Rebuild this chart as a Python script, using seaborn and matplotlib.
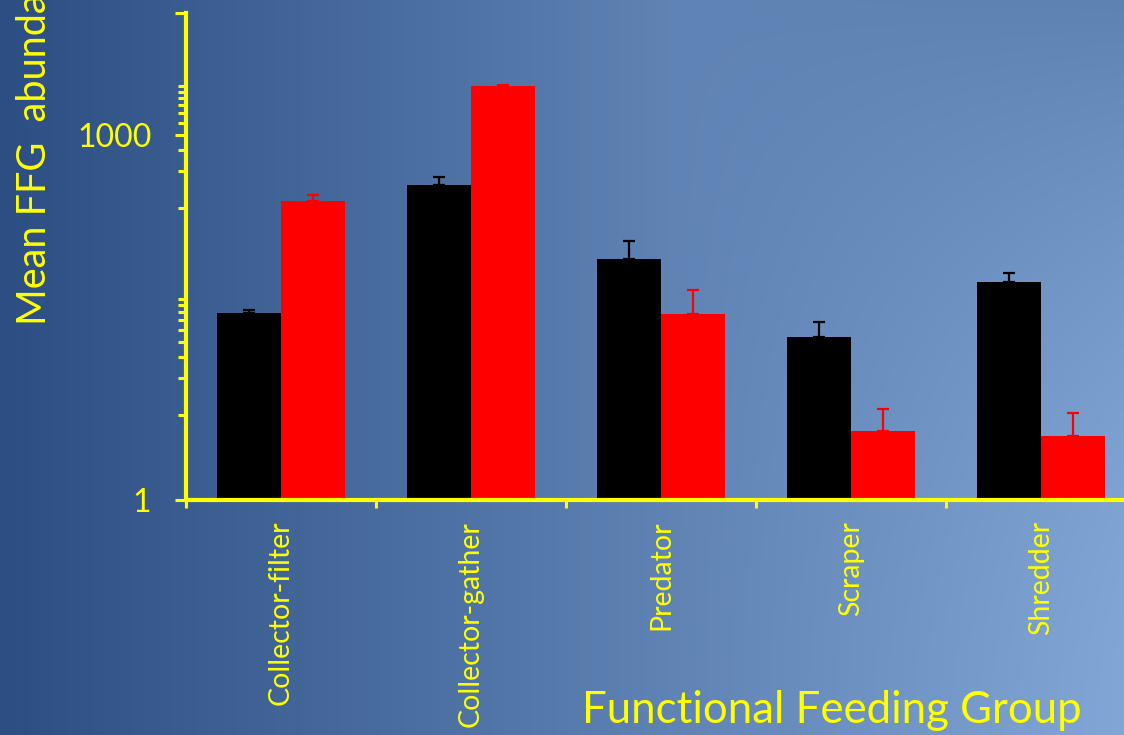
import numpy as np
import pandas as pd
import matplotlib
matplotlib.use("Agg")
import matplotlib.pyplot as plt
import seaborn as sns
from matplotlib.ticker import FixedLocator, NullFormatter

# Mean abundance per functional feeding group, two site types
groups = ["Collector-filter", "Collector-gather", "Predator", "Scraper", "Shredder"]
site_types = ["A", "B"]
mean_a = [34.0, 388.0, 95.7, 21.8, 61.9]
mean_b = [283.0, 2523.0, 33.7, 3.69, 3.36]
upper_a = [36.3, 451.0, 134.0, 29.0, 73.3]
upper_b = [316.0, 2570.0, 53.2, 5.59, 5.19]

y_major = [1, 1000, 10000]
y_major_labels = ["1", "1000", ""]
y_minor = [5, 10, 15, 20, 25, 30, 35, 40, 45,
           250, 500, 750, 1250, 1500, 1750, 2000, 2250, 2500]

df = pd.DataFrame({
    "group": groups * 2,
    "site": [site_types[0]] * len(groups) + [site_types[1]] * len(groups),
    "mean": mean_a + mean_b,
    "upper": upper_a + upper_b,
})

YEL = "#ffff00"
W, H = 1124, 735

sns.set_theme(style="white")
plt.rcParams["font.family"] = ["Lato", "DejaVu Sans"]

fig = plt.figure(figsize=(W / 100, H / 100), dpi=100)

# gradient backdrop
bg = fig.add_axes([0, 0, 1, 1], zorder=0)
xx = np.linspace(0, 1, 400)[None, :]
yy = np.linspace(0, 1, 300)[:, None]
left = np.array([44, 78, 130]) / 255
right = np.array([130, 167, 214]) / 255
img = left[None, None, :] * (1 - xx[..., None]) + right[None, None, :] * xx[..., None]
dark = (np.clip((xx - 0.6) / 0.4, 0, 1) * (1 - yy) ** 2)[..., None] * (36 / 255)
img = np.clip(img - dark, 0, 1)
bg.imshow(img, aspect="auto", extent=[0, 1, 0, 1], origin="upper")
bg.set_axis_off()

ax = fig.add_axes([186 / W, 1 - 500 / H, (1136 - 186) / W, (500 - 12.7) / H], zorder=1)
ax.set_facecolor("none")
ax.set_yscale("log")

sns.barplot(data=df, x="group", y="mean", hue="site", order=groups,
            hue_order=site_types, palette=["#000000", "#ff0000"],
            width=0.67, gap=0, errorbar=None, saturation=1,
            edgecolor="none", linewidth=0, legend=False, ax=ax)

# upper error bars in each bar's own colour
for cont, site, col in zip(ax.containers, site_types, ["#000000", "#ff0000"]):
    sub = df[df["site"] == site].set_index("group").loc[groups]
    xs = [p.get_x() + p.get_width() / 2 for p in cont.patches]
    ys = sub["mean"].to_numpy()
    err = sub["upper"].to_numpy() - ys
    ax.errorbar(xs, ys, yerr=[np.zeros_like(err), err], fmt="none",
                ecolor=col, elinewidth=1.6, capsize=4.3, capthick=1.6, zorder=3)

ax.set_ylim(1, 10000)
ax.set_xlim(-0.5, 4.5)

ax.yaxis.set_major_locator(FixedLocator(y_major))
ax.set_yticklabels(y_major_labels)
ax.yaxis.set_minor_locator(FixedLocator(y_minor))
ax.yaxis.set_minor_formatter(NullFormatter())
ax.tick_params(axis="y", which="major", direction="out", length=8, width=2.2,
               color=YEL, labelcolor=YEL, labelsize=23, pad=17, left=True)
ax.tick_params(axis="y", which="minor", direction="out", length=6, width=2.2,
               color=YEL, left=True)

ax.set_xticks(range(len(groups)))
ax.set_xticklabels(groups, rotation=90, va="top", ha="center")
ax.xaxis.set_minor_locator(FixedLocator([-0.5, 0.5, 1.5, 2.5, 3.5]))
ax.tick_params(axis="x", which="major", length=0, labelcolor=YEL,
               labelsize=20.5, pad=15)
ax.tick_params(axis="x", which="minor", direction="out", length=6, width=2.2,
               color=YEL, bottom=True)

ax.set_xlabel("")
ax.set_ylabel("")
for side in ["top", "right"]:
    ax.spines[side].set_visible(False)
for side in ["left", "bottom"]:
    ax.spines[side].set_color(YEL)
    ax.spines[side].set_linewidth(3)

fig.text(35 / W, 1 - 325 / H, "Mean FFG  abundance", rotation=90,
         ha="center", va="bottom", color=YEL, fontsize=28.5)
fig.text(1082 / W, 1 - 723 / H, "Functional Feeding Group", ha="right",
         va="baseline", color=YEL, fontsize=31.5)

fig.savefig("out.png", dpi=100)
